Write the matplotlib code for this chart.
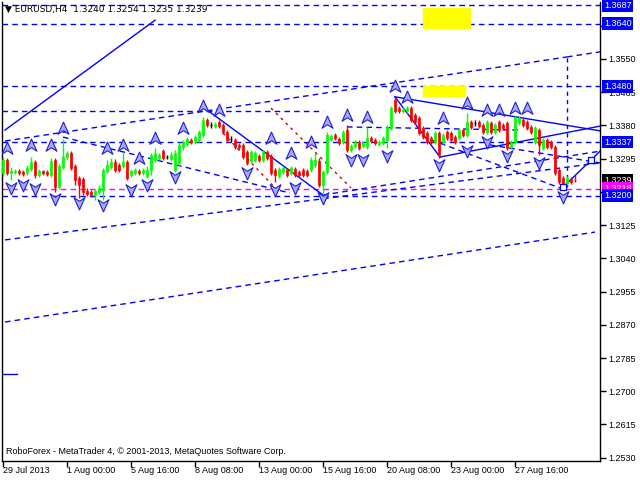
import numpy as np
import matplotlib
matplotlib.use("Agg")
import matplotlib.pyplot as plt
from matplotlib.path import Path

# ---------------- data ----------------
opens = [1.3258,1.3291,1.3258,1.3261,1.3263,1.3261,1.3258,1.3268,1.3286,1.3253,
         1.3263,1.3261,1.3253,1.3291,1.3222,1.3274,1.3299,1.3309,1.3276,1.3245,
         1.3243,1.3212,1.3209,1.3202,1.3209,1.3215,1.3263,1.3274,1.3286,1.3279,
         1.3276,1.3286,1.3253,1.3258,1.3263,1.3258,1.3251,1.3266,1.3291,1.3297,
         1.3314,1.3299,1.3294,1.3266,1.3284,1.3325,1.3332,1.3343,1.3337,1.3343,
         1.3355,1.3394,1.3381,1.3378,1.3389,1.3381,1.3363,1.3345,1.3343,1.3330,
         1.3330,1.3312,1.3289,1.3291,1.3302,1.3291,1.3312,1.3302,1.3266,1.3251,
         1.3261,1.3266,1.3258,1.3268,1.3261,1.3266,1.3263,1.3266,1.3279,1.3289,
         1.3227,1.3261,1.3345,1.3355,1.3345,1.3337,1.3368,1.3317,1.3327,1.3337,
         1.3327,1.3325,1.3348,1.3343,1.3332,1.3335,1.3343,1.3373,1.3445,1.3424,
         1.3417,1.3417,1.3424,1.3407,1.3399,1.3373,1.3360,1.3348,1.3337,1.3360,
         1.3337,1.3363,1.3360,1.3350,1.3348,1.3368,1.3355,1.3389,1.3386,1.3389,
         1.3381,1.3363,1.3386,1.3363,1.3389,1.3381,1.3386,1.3325,1.3337,1.3386,
         1.3394,1.3389,1.3376,1.3337,1.3368,1.3322,1.3343,1.3337,1.3325,1.3266,
         1.3245,1.3233,1.3243,1.3240]
highs = [1.3299,1.3297,1.3274,1.3268,1.3268,1.3266,1.3279,1.3299,1.3291,1.3268,
         1.3266,1.3266,1.3297,1.3297,1.3281,1.3345,1.3314,1.3314,1.3281,1.3251,
         1.3248,1.3220,1.3215,1.3217,1.3227,1.3271,1.3291,1.3297,1.3294,1.3284,
         1.3309,1.3291,1.3268,1.3271,1.3268,1.3271,1.3276,1.3309,1.3322,1.3309,
         1.3320,1.3304,1.3312,1.3317,1.3337,1.3343,1.3350,1.3348,1.3355,1.3368,
         1.3401,1.3399,1.3389,1.3389,1.3394,1.3386,1.3368,1.3353,1.3348,1.3335,
         1.3335,1.3317,1.3317,1.3314,1.3307,1.3317,1.3317,1.3307,1.3271,1.3274,
         1.3276,1.3271,1.3276,1.3274,1.3266,1.3271,1.3268,1.3299,1.3309,1.3297,
         1.3266,1.3363,1.3358,1.3360,1.3350,1.3368,1.3381,1.3332,1.3343,1.3343,
         1.3340,1.3376,1.3353,1.3348,1.3343,1.3353,1.3381,1.3430,1.3453,1.3430,
         1.3427,1.3430,1.3430,1.3412,1.3404,1.3378,1.3366,1.3353,1.3366,1.3366,
         1.3360,1.3368,1.3366,1.3355,1.3373,1.3373,1.3412,1.3394,1.3394,1.3394,
         1.3386,1.3394,1.3391,1.3386,1.3394,1.3386,1.3391,1.3343,1.3404,1.3404,
         1.3399,1.3394,1.3381,1.3378,1.3373,1.3348,1.3348,1.3343,1.3330,1.3271,
         1.3251,1.3251,1.3248,1.3254]
lows = [1.3251,1.3253,1.3240,1.3256,1.3253,1.3251,1.3253,1.3263,1.3245,1.3248,
        1.3253,1.3251,1.3248,1.3209,1.3217,1.3268,1.3291,1.3266,1.3227,1.3194,
        1.3202,1.3199,1.3197,1.3189,1.3204,1.3189,1.3258,1.3268,1.3261,1.3261,
        1.3271,1.3240,1.3248,1.3253,1.3253,1.3253,1.3245,1.3253,1.3286,1.3291,
        1.3291,1.3294,1.3289,1.3261,1.3276,1.3317,1.3327,1.3332,1.3332,1.3337,
        1.3350,1.3376,1.3373,1.3373,1.3373,1.3358,1.3337,1.3337,1.3320,1.3317,
        1.3294,1.3279,1.3284,1.3286,1.3286,1.3286,1.3291,1.3253,1.3235,1.3245,
        1.3256,1.3248,1.3253,1.3248,1.3248,1.3248,1.3248,1.3261,1.3274,1.3222,
        1.3202,1.3256,1.3340,1.3343,1.3330,1.3332,1.3312,1.3312,1.3322,1.3317,
        1.3322,1.3320,1.3335,1.3330,1.3327,1.3330,1.3322,1.3368,1.3412,1.3412,
        1.3412,1.3412,1.3389,1.3384,1.3355,1.3345,1.3332,1.3332,1.3332,1.3297,
        1.3332,1.3343,1.3337,1.3332,1.3343,1.3350,1.3350,1.3371,1.3378,1.3373,
        1.3358,1.3358,1.3358,1.3358,1.3363,1.3368,1.3317,1.3320,1.3332,1.3381,
        1.3376,1.3368,1.3358,1.3332,1.3304,1.3317,1.3320,1.3320,1.3253,1.3230,
        1.3222,1.3227,1.3230,1.3235]
closes = [1.3291,1.3258,1.3263,1.3263,1.3258,1.3256,1.3271,1.3286,1.3253,1.3263,
          1.3258,1.3256,1.3289,1.3222,1.3276,1.3299,1.3309,1.3271,1.3240,1.3227,
          1.3209,1.3204,1.3202,1.3212,1.3220,1.3266,1.3279,1.3286,1.3266,1.3266,
          1.3286,1.3245,1.3263,1.3266,1.3258,1.3266,1.3266,1.3304,1.3309,1.3304,
          1.3297,1.3299,1.3304,1.3309,1.3330,1.3337,1.3345,1.3337,1.3350,1.3363,
          1.3394,1.3381,1.3381,1.3384,1.3378,1.3363,1.3343,1.3345,1.3325,1.3325,
          1.3299,1.3284,1.3312,1.3309,1.3291,1.3312,1.3297,1.3258,1.3253,1.3268,
          1.3271,1.3253,1.3271,1.3253,1.3253,1.3253,1.3253,1.3291,1.3291,1.3227,
          1.3261,1.3355,1.3353,1.3348,1.3335,1.3363,1.3317,1.3327,1.3337,1.3322,
          1.3335,1.3348,1.3340,1.3335,1.3337,1.3348,1.3376,1.3424,1.3417,1.3417,
          1.3422,1.3424,1.3394,1.3389,1.3360,1.3350,1.3337,1.3337,1.3360,1.3304,
          1.3355,1.3348,1.3343,1.3337,1.3368,1.3355,1.3389,1.3376,1.3386,1.3378,
          1.3363,1.3389,1.3363,1.3381,1.3368,1.3373,1.3322,1.3337,1.3399,1.3399,
          1.3381,1.3373,1.3363,1.3373,1.3330,1.3343,1.3325,1.3325,1.3258,1.3235,
          1.3227,1.3245,1.3235,1.3239]

date_labels = ["29 Jul 2013", "1 Aug 00:00", "5 Aug 16:00", "8 Aug 08:00", "13 Aug 00:00",
               "15 Aug 16:00", "20 Aug 08:00", "23 Aug 00:00", "27 Aug 16:00"]
date_label_bars = [0, 16, 32, 48, 64, 80, 96, 112, 128]

price_ticks = [1.2530, 1.2615, 1.2700, 1.2785, 1.2870, 1.2955, 1.3040, 1.3125,
               1.3210, 1.3295, 1.3380, 1.3465, 1.3550, 1.3635]
hidden_tick_labels = [1.3210, 1.3635]

hline_levels = [1.3687, 1.3640, 1.3480, 1.3337, 1.3200]
magenta_level = 1.3218
partial_level = 1.3416
partial_level_end_bar = 80

boxed_labels = [("1.3687", 1.3687, "#0000FF", "white"),
                ("1.3640", 1.3640, "#0000FF", "white"),
                ("1.3480", 1.3480, "#0000FF", "white"),
                ("1.3337", 1.3337, "#0000FF", "white"),
                ("1.3239", 1.3239, "black", "white"),
                ("1.3218", 1.3218, "#FF00FF", "white"),
                ("1.3200", 1.3200, "#0000FF", "white")]

up_arrow_bars = [1, 7, 12, 15, 26, 30, 34, 38, 45, 50, 54, 67, 72, 77, 81, 86, 91,
                 98, 101, 110, 116, 121, 124, 128, 131]
up_arrow_prices = [1.3322, 1.3330, 1.3330, 1.3373, 1.3322, 1.3330, 1.3297, 1.3348,
                   1.3373, 1.3430, 1.3419, 1.3348, 1.3309, 1.3337, 1.3389, 1.3407,
                   1.3401, 1.3481, 1.3453, 1.3399, 1.3437, 1.3419, 1.3419, 1.3424, 1.3424]
down_arrow_bars = [2, 5, 8, 13, 19, 25, 32, 36, 43, 61, 68, 73, 80, 87, 90, 96,
                   109, 116, 121, 126, 134, 140]
down_arrow_prices = [1.3220, 1.3227, 1.3217, 1.3192, 1.3181, 1.3176, 1.3215, 1.3227,
                     1.3248, 1.3258, 1.3215, 1.3220, 1.3194, 1.3291, 1.3291, 1.3302,
                     1.3279, 1.3314, 1.3337, 1.3302, 1.3284, 1.3197]

# trend lines: (bar0, price0, bar1, price1)
solid_lines = [(0.5, 1.3368, 38.0, 1.3649),
               (50.0, 1.3427, 80.0, 1.3202),
               (98.0, 1.3453, 109.25, 1.3299),
               (109.25, 1.3299, 149.25, 1.3378),
               (98.0, 1.3453, 149.25, 1.3366),
               (140.0, 1.3222, 147.0, 1.3291),
               (147.0, 1.3291, 149.25, 1.3314)]
dashed_lines = [(0.5, 1.3340, 141.0, 1.3555),
                (141.0, 1.3555, 149.25, 1.3568),
                (0.5, 1.3087, 149.25, 1.3284),
                (0.5, 1.2877, 148.0, 1.3107),
                (80.0, 1.3202, 149.25, 1.3314),
                (15.0, 1.3350, 71.75, 1.3207),
                (86.0, 1.3376, 129.0, 1.3368),
                (107.0, 1.3343, 140.5, 1.3215),
                (121.75, 1.3330, 149.25, 1.3284)]
red_dotted_lines = [(55.0, 1.3360, 68.5, 1.3215),
                    (67.0, 1.3424, 87.0, 1.3220)]
forecast_points_bars = [140.0, 147.0]
forecast_points_prices = [1.3222, 1.3291]
vertical_bar = 141.0
vertical_range = (1.3222, 1.3555)

yellow_boxes = [(105.0, 1.3628, 116.75, 1.3679),
                (105.0, 1.3455, 115.5, 1.3480)]
left_stub_price = 1.2744

# ---------------- figure ----------------
W, H = 640, 480
fig = plt.figure(figsize=(W / 100, H / 100), dpi=100)
fig.patch.set_facecolor("white")
ax = fig.add_axes([2 / W, 19 / H, 598 / W, 459 / H])
ax.set_facecolor("white")
ax.set_xlim(-0.25, 149.25)
ax.set_ylim(1.25216, 1.36955)
FONT = "Liberation Sans"
FS = 6.5
DASH = (0, (4, 3))

for lv in hline_levels:
    ax.axhline(lv, color="#0000FF", lw=1, ls=DASH, zorder=1)
ax.axhline(magenta_level, color="#FF00FF", lw=1, ls=DASH, zorder=1)
ax.plot([-0.25, partial_level_end_bar], [partial_level, partial_level],
        color="#0000FF", lw=1, ls=DASH, zorder=1)

for (x0, y0, x1, y1) in yellow_boxes:
    ax.add_patch(plt.Rectangle((x0, y0), x1 - x0, y1 - y0, color="#FFFF00", zorder=1))

for (x0, y0, x1, y1) in solid_lines:
    ax.plot([x0, x1], [y0, y1], color="#0000FF", lw=1, zorder=2)
for (x0, y0, x1, y1) in dashed_lines:
    ax.plot([x0, x1], [y0, y1], color="#0000FF", lw=1, ls=DASH, zorder=2)
for (x0, y0, x1, y1) in red_dotted_lines:
    ax.plot([x0, x1], [y0, y1], color="#CC0000", lw=1, ls=(0, (2, 3)), zorder=2)
ax.plot([vertical_bar, vertical_bar], vertical_range, color="#0000FF", lw=1,
        ls=(0, (3, 3)), zorder=2)
ax.plot([-0.25, 3.5], [left_stub_price, left_stub_price], color="#0000FF", lw=1, zorder=2)
ax.scatter(forecast_points_bars, forecast_points_prices, marker="s", s=22,
           facecolor="white", edgecolor="#0000FF", linewidths=0.9, zorder=6)

# candles
o = np.array(opens); h = np.array(highs); l = np.array(lows); c = np.array(closes)
idx = np.arange(len(o))
cols = np.where(c > o, "#00FF00", np.where(c < o, "#FF0000", "black"))
ax.vlines(idx, l, h, colors=cols, lw=1, zorder=3)
bottoms = np.minimum(o, c)
heights = np.maximum(np.abs(c - o), 0.00003)
ax.bar(idx, heights, bottom=bottoms, width=0.7, color=cols, edgecolor=cols,
       linewidth=0.5, zorder=4)

# arrow markers
up_v = [(0, 1), (0.85, -0.9), (0, -0.35), (-0.85, -0.9), (0, 1)]
codes = [Path.MOVETO, Path.LINETO, Path.LINETO, Path.LINETO, Path.CLOSEPOLY]
up_path = Path(up_v, codes)
dn_path = Path([(x, -y) for x, y in up_v], codes)
ax.scatter(up_arrow_bars, up_arrow_prices, marker=up_path, s=85,
           facecolor="#A8A8FF", edgecolor="#2020CC", linewidths=0.8, zorder=5)
ax.scatter(down_arrow_bars, down_arrow_prices, marker=dn_path, s=85,
           facecolor="#A8A8FF", edgecolor="#2020CC", linewidths=0.8, zorder=5)

ax.spines["top"].set_visible(False)
for s in ["left", "right", "bottom"]:
    ax.spines[s].set_color("black")
    ax.spines[s].set_linewidth(1)

ax.yaxis.tick_right()
ax.set_yticks(price_ticks)
ax.set_yticklabels(["" if p in hidden_tick_labels else f"{p:.4f}" for p in price_ticks],
                   fontsize=FS, family=FONT)
ax.tick_params(axis="y", length=4, width=1, pad=2, direction="out")
ax.set_xticks(date_label_bars)
ax.set_xticklabels([])
ax.tick_params(axis="x", length=4, width=1, direction="out")
for b, lab in zip(date_label_bars, date_labels):
    ax.text(b + 0.1, -0.010, lab, transform=ax.get_xaxis_transform(), ha="left",
            va="top", fontsize=FS, family=FONT)

for txt, lv, bg, fg in boxed_labels:
    ax.text(1.0 + 4 / 598, lv, txt, transform=ax.get_yaxis_transform(), ha="left",
            va="center", fontsize=FS, family=FONT, color=fg,
            bbox=dict(boxstyle="square,pad=0.2", fc=bg, ec="none"), zorder=10,
            clip_on=False)

fig.text(5 / W, 1 - 9 / H, "\u25bc EURUSD,H4  1.3240 1.3254 1.3235 1.3239", fontsize=FS,
         family=["DejaVu Sans"], va="center", ha="left")
fig.text(6 / W, 1 - 452 / H, "RoboForex - MetaTrader 4, \u00a9 2001-2013, MetaQuotes Software Corp.",
         fontsize=FS, family=FONT, va="center", ha="left")

fig.savefig("out.png", dpi=100, facecolor="white")
